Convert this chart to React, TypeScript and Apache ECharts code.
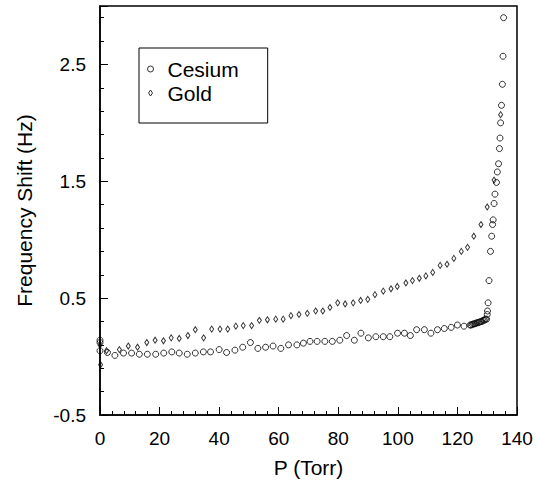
import React, { useEffect, useRef } from "react";
import * as echarts from "echarts";

// Cesium: pressure (Torr) and frequency shift (Hz)
const cesiumP = [
  0, 0, 0, 2.5, 5.0, 7.9, 10.6, 13.2, 15.9, 18.7, 21.4, 24.1, 26.6, 29.3, 32.0, 34.7, 37.1, 40.0, 42.5, 45.3,
  47.9, 50.5, 53.0, 55.6, 58.1, 60.7, 63.3, 66.1, 68.3, 70.5, 72.9, 75.5, 78.0, 80.5, 82.8, 85.4, 87.6, 90.1,
  92.6, 95.1, 97.3, 99.9, 102.2, 104.2, 106.3, 108.9, 111.1, 113.3, 115.6, 117.9, 120.0, 122.2,
  124.2, 124.6, 125.0, 125.4, 125.8, 126.2, 126.6, 127.0, 127.4, 127.8, 128.2, 128.6, 129.0, 129.4, 129.8,
  130.0, 130.1, 130.3, 130.6, 131.1, 131.5, 131.8, 132.0, 132.3, 132.6, 133.1, 133.4, 133.8, 134.1, 134.3,
  134.5, 134.8, 135.1, 135.3, 135.5,
];
const cesiumShift = [
  0.14, 0.12, 0.05, 0.035, 0.01, 0.03, 0.03, 0.02, 0.02, 0.02, 0.03, 0.04, 0.03, 0.02, 0.03, 0.04, 0.04, 0.06, 0.035, 0.055,
  0.08, 0.12, 0.07, 0.08, 0.09, 0.07, 0.1, 0.1, 0.115, 0.13, 0.13, 0.13, 0.13, 0.14, 0.18, 0.14, 0.2, 0.16,
  0.17, 0.17, 0.17, 0.2, 0.2, 0.18, 0.23, 0.23, 0.2, 0.23, 0.24, 0.25, 0.27, 0.26,
  0.27, 0.27, 0.275, 0.28, 0.28, 0.285, 0.29, 0.29, 0.295, 0.3, 0.3, 0.31, 0.31, 0.32, 0.32,
  0.36, 0.39, 0.46, 0.65, 0.9, 1.03, 1.13, 1.17, 1.31, 1.39, 1.49, 1.58, 1.65, 1.78, 1.87,
  2.0, 2.15, 2.33, 2.57, 2.9,
];

// Gold: pressure (Torr) and frequency shift (Hz)
const goldP = [
  0, 0.2, 2.2, 6.5, 9.5, 12.6, 15.7, 18.5, 21.3, 23.9, 26.6, 29.5, 32.0, 34.8, 37.5, 40.3, 42.9, 45.6, 48.1,
  50.9, 53.5, 56.2, 59.0, 61.5, 64.1, 66.8, 69.6, 72.4, 74.8, 77.2, 79.8, 82.3, 85.0, 87.5, 89.9, 92.3, 95.1,
  97.7, 99.8, 102.7, 104.9, 107.2, 109.4, 111.7, 114.2, 116.5, 118.8, 121.3, 123.4, 125.5, 127.9, 130.0,
  132.3, 134.5,
];
const goldShift = [
  0.1, -0.07, 0.05, 0.06, 0.09, 0.08, 0.12, 0.14, 0.135, 0.16, 0.155, 0.18, 0.23, 0.16, 0.235, 0.235, 0.235, 0.26, 0.265,
  0.265, 0.31, 0.315, 0.32, 0.32, 0.35, 0.36, 0.37, 0.39, 0.39, 0.42, 0.46, 0.45, 0.46, 0.48, 0.49, 0.53, 0.56,
  0.58, 0.6, 0.63, 0.65, 0.67, 0.69, 0.72, 0.78, 0.79, 0.84, 0.9, 0.935, 1.03, 1.13, 1.28,
  1.51, 2.07,
];

const yLabelValues = [-0.5, 0.5, 1.5, 2.5];

const FONT = "'Liberation Sans', Arial, Helvetica, sans-serif";

export default function App() {
  const ref = useRef<HTMLDivElement>(null);
  useEffect(() => {
    document.body.style.margin = "0";
    if (!ref.current) return;
    const chart = echarts.init(ref.current, undefined, { renderer: "svg" });
    const cesium = cesiumP.map((p, i) => [p, cesiumShift[i]]);
    const gold = goldP.map((p, i) => [p, goldShift[i]]);
    chart.setOption({
      animation: false,
      backgroundColor: "#fff",
      textStyle: { fontFamily: FONT, color: "#000" },
      grid: {
        left: 100,
        right: 20,
        top: 6,
        bottom: 69,
        show: true,
        borderColor: "#000",
        borderWidth: 1.5,
        backgroundColor: "transparent",
      },
      legend: {
        orient: "vertical",
        left: 139,
        top: 48,
        padding: [9, 29, 18, 8],
        borderColor: "#000",
        borderWidth: 1,
        itemWidth: 24,
        itemHeight: 6,
        itemGap: 0,
        selectedMode: false,
        textStyle: { fontSize: 21, fontFamily: FONT, color: "#000", lineHeight: 24 },
        data: [
          {
            name: "Cesium",
            icon: "path://M0,3a3,3 0 1,0 6,0a3,3 0 1,0 -6,0Z",
            itemStyle: { color: "transparent", borderColor: "#000", borderWidth: 1 },
          },
          {
            name: "Gold",
            icon: "path://M2,0L4,3L2,6L0,3Z",
            itemStyle: { color: "transparent", borderColor: "#000", borderWidth: 1 },
          },
        ],
      },
      xAxis: {
        type: "value",
        min: 0,
        max: 140,
        interval: 20,
        name: "P (Torr)",
        nameLocation: "middle",
        nameGap: 42,
        nameTextStyle: { fontSize: 21, fontFamily: FONT, color: "#000" },
        axisLine: { onZero: false, lineStyle: { color: "#000", width: 1.5 } },
        axisTick: { inside: true, length: 8, lineStyle: { color: "#000", width: 1 } },
        minorTick: { show: true, splitNumber: 5, length: 4, lineStyle: { color: "#000", width: 1 } },
        axisLabel: { fontSize: 19, fontFamily: FONT, color: "#000", margin: 14 },
        splitLine: { show: false },
      },
      yAxis: [
        {
          type: "value",
          min: -0.5,
          max: 3.0,
          interval: 0.2,
          name: "Frequency Shift (Hz)",
          nameLocation: "middle",
          nameGap: 65,
          nameTextStyle: { fontSize: 21, fontFamily: FONT, color: "#000" },
          axisLine: { onZero: false, lineStyle: { color: "#000", width: 1.5 } },
          axisTick: { inside: true, length: 4, lineStyle: { color: "#000", width: 1 } },
          axisLabel: {
            fontSize: 19,
            fontFamily: FONT,
            color: "#000",
            margin: 14,
            formatter: (v: number) =>
              yLabelValues.some((t) => Math.abs(t - v) < 1e-6) ? v.toFixed(1) : "",
          },
          splitLine: { show: false },
        },
        {
          type: "value",
          position: "left",
          min: -0.5,
          max: 3.0,
          interval: 1,
          axisLine: { show: false, onZero: false },
          axisTick: { show: true, inside: true, length: 8, lineStyle: { color: "#000", width: 1 } },
          axisLabel: { show: false },
          splitLine: { show: false },
        },
      ],
      series: [
        {
          name: "Cesium",
          type: "scatter",
          data: cesium,
          symbol: "circle",
          symbolSize: 6,
          itemStyle: { color: "transparent", borderColor: "#000", borderWidth: 1 },
        },
        {
          name: "Gold",
          type: "scatter",
          data: gold,
          symbol: "diamond",
          symbolSize: [4, 6],
          itemStyle: { color: "transparent", borderColor: "#000", borderWidth: 1 },
        },
      ],
    });
    return () => chart.dispose();
  }, []);
  return <div ref={ref} style={{ width: 537, height: 484 }} />;
}
